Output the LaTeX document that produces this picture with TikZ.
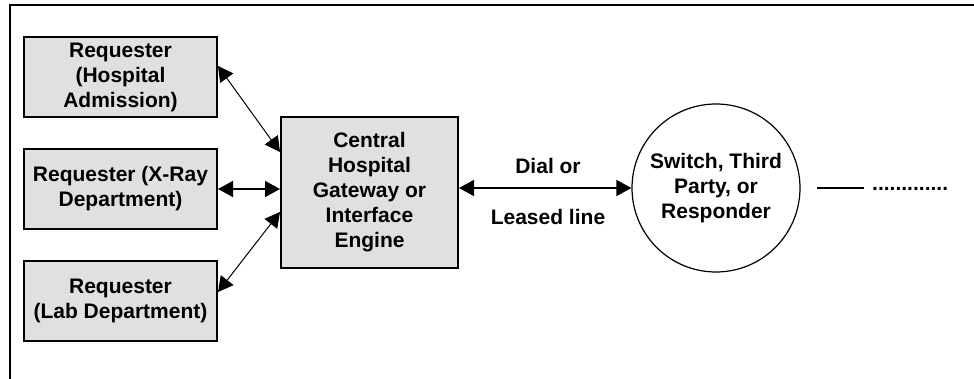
\documentclass[tikz,border=0pt]{standalone}
\usepackage{fontspec}
\setmainfont{Liberation Sans}
\usetikzlibrary{arrows.meta}
\definecolor{boxgrey}{RGB}{224,224,224}
\begin{document}
\begin{tikzpicture}[x=1pt,y=-1pt,
  txt/.style={font=\bfseries\fontsize{21}{25}\selectfont,align=center,inner sep=0pt},
  box/.style={txt,draw,line width=2pt,fill=boxgrey,minimum width=193pt,minimum height=80pt},
  tip/.style={{Triangle[length=15pt,width=16pt]}-{Triangle[length=15pt,width=16pt]}},
  link/.style={tip,line width=1.5pt},
  slant/.style={tip,line width=1pt}
]
\useasboundingbox (0,0) rectangle (974,379);
% frame
\draw[line width=2pt] (10,379) -- (10,5) -- (974,5);

% requesters
\node[box] (adm) at (120.5,77) {Requester\\(Hospital\\Admission)};
\node[box] (xray) at (120.5,189) {Requester (X-Ray\\Department)};
\node[box] (lab) at (120.5,301) {Requester\\(Lab Department)};

% gateway
\node[box,minimum width=177pt,minimum height=151pt] (gw) at (369.5,192.5)
  {Central\\Hospital\\Gateway or\\Interface\\Engine};

% responder
\node[txt,circle,draw,line width=1.2pt,minimum size=168pt] (sw) at (716,188)
  {Switch, Third\\Party, or\\Responder};

% requester links
\draw[slant] ([yshift=11pt]adm.east) -- ([yshift=40.5pt]gw.west);
\draw[link] (xray.east) -- (xray.east -| gw.west);
\draw[slant] ([yshift=9pt]lab.east) -- ([yshift=-19.5pt]gw.west);

% dial / leased line
\draw[link] (gw.east |- sw.west) -- (sw.west);
\node[txt] (dial) at (548,166) {Dial or};
\node[txt] (leased) at (548,217) {Leased line};

% continuation
\coordinate (c0) at (817,188);
\coordinate (c1) at (864,188);
\draw[line width=1.5pt] (c0) -- (c1);
\node[txt,anchor=base west] (more) at (872,191) {.............};
\end{tikzpicture}
\end{document}
